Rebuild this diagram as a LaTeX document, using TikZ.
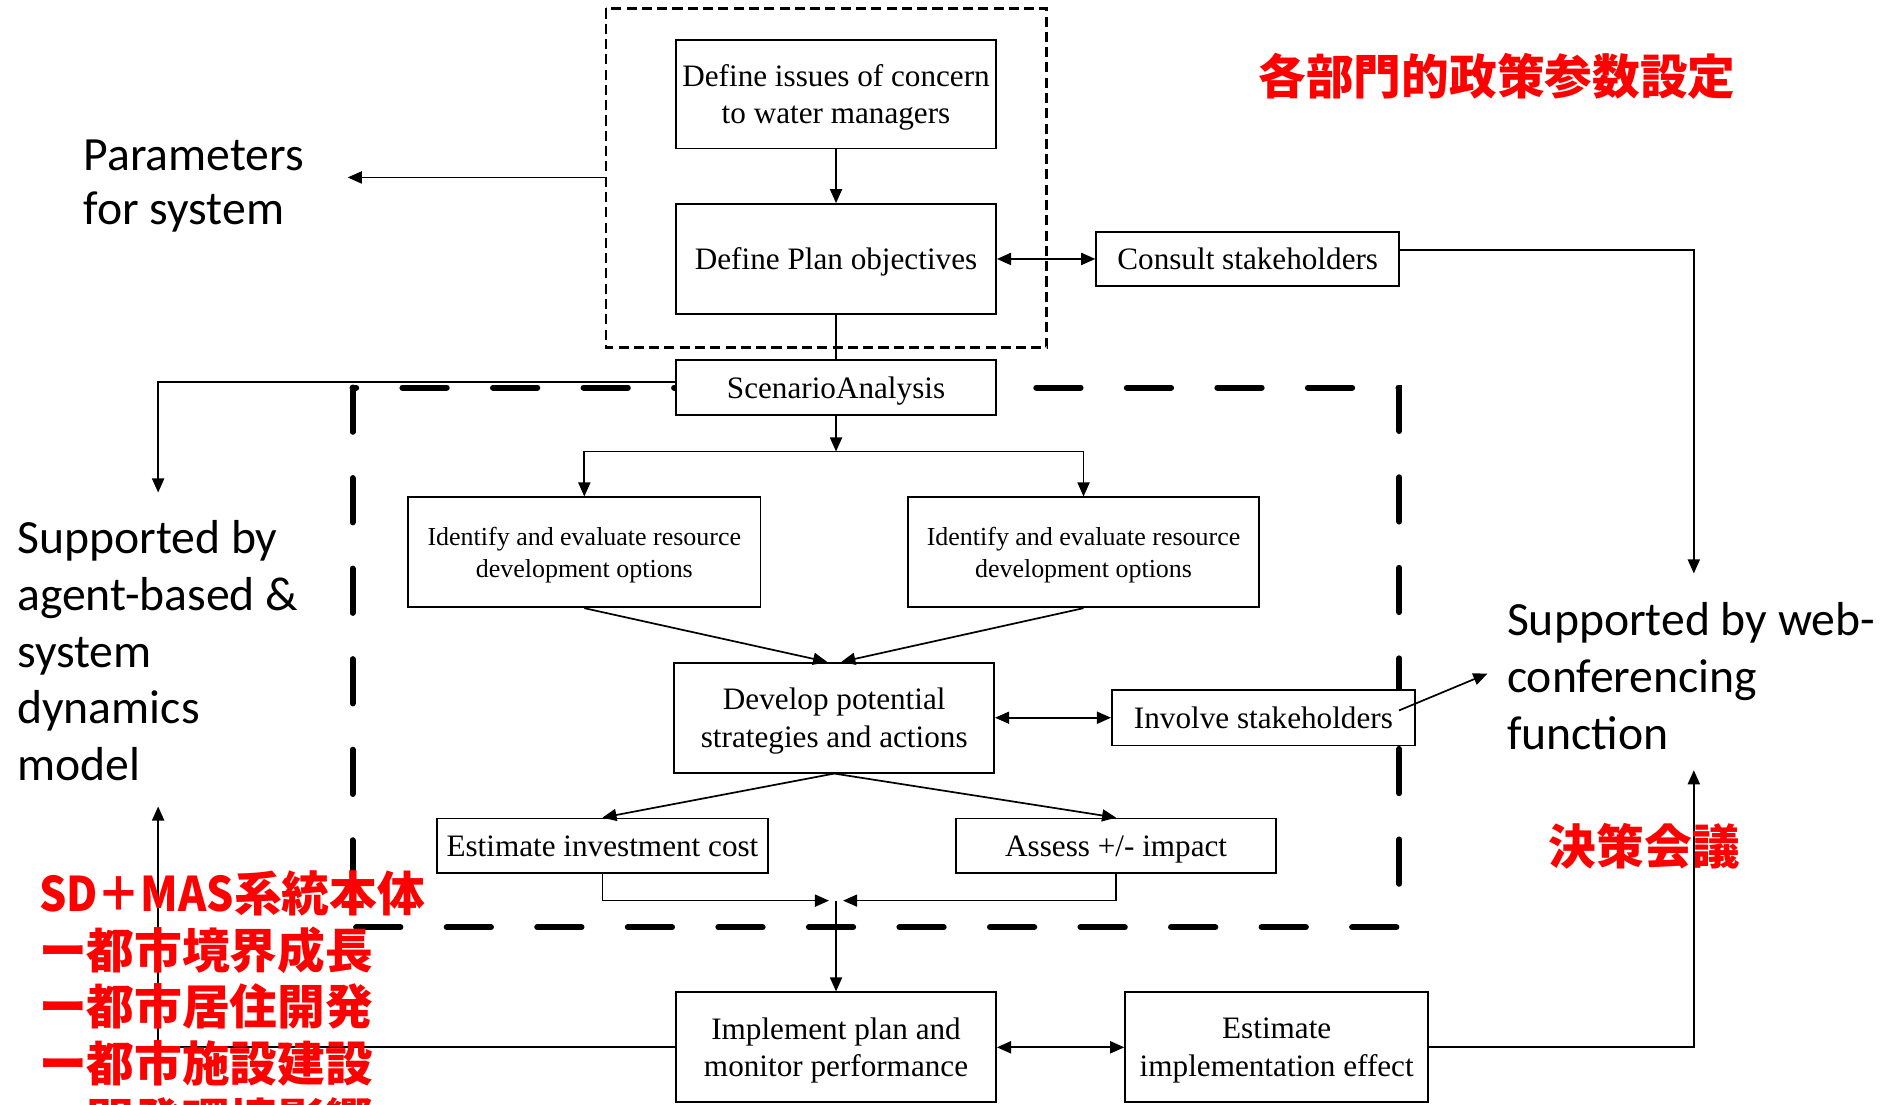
\documentclass[tikz,border=0pt]{standalone}
\usepackage{graphicx}
\usepackage{fontspec}
\setmainfont{Liberation Serif}
\newfontfamily\sansfam{Carlito}
\newfontfamily\jpfont{Noto Sans CJK JP}
\usetikzlibrary{arrows.meta,calc}
\definecolor{hired}{RGB}{255,0,0}
\newcommand\boxfont{\fontsize{15.5pt}{18.6pt}\selectfont}
\newcommand\smallboxfont{\fontsize{12.9pt}{15.6pt}\selectfont}
\begin{document}
\begin{tikzpicture}[x=0.6pt,y=-0.6pt,
  box/.style={draw, line width=0.9pt, fill=white, inner sep=0pt, align=center, font=\boxfont, text depth=0pt},
  sz/.style 2 args={minimum width=#1*0.6pt, minimum height=#2*0.6pt},
  conn/.style={line width=0.85pt},
  arr/.style={conn, -{Triangle[length=7pt,width=6pt]}},
  dbl/.style={conn, {Triangle[length=7pt,width=6pt]}-{Triangle[length=7pt,width=6pt]}},
  thinframe/.style={line width=1.3pt, dash pattern=on 5pt off 2.6pt},
  thickframe/.style={line width=3pt, line cap=round, dash pattern=on 22pt off 23pt},
  note/.style={font=\sansfam\fontsize{23.7pt}{28.2pt}\selectfont, align=left, inner sep=0pt},
  redtxt/.style={text=hired, font=\jpfont\bfseries\fontsize{23.7pt}{28.2pt}\selectfont, inner sep=0pt}
]
\useasboundingbox (0,0) rectangle (1568,915);

% dashed frames around the planning stage and the analysis stage
\draw[thinframe] (502,7) rectangle (867,288);
\draw[thickframe] (292,321) rectangle (1159,768);

% process boxes
\node[box, sz={265}{90}] (iss) at (692.5,78) {Define issues of concern\\to water managers};
\node[box, sz={265}{91}] (obj) at (692.5,214.5) {Define Plan objectives};
\node[box, sz={265}{46}] (sc)  at (692.5,321) {ScenarioAnalysis};
\node[box, sz={251}{45}] (cons) at (1033.5,214.5) {Consult stakeholders};
\node[box, sz={292}{91}, font=\smallboxfont] (idl) at (484,457.5) {Identify and evaluate resource\\development options};
\node[box, sz={291}{91}, font=\smallboxfont] (idr) at (897.5,457.5) {Identify and evaluate resource\\development options};
\node[box, sz={265}{91}] (dev) at (691,594.5) {Develop potential\\strategies and actions};
\node[box, sz={251}{46}] (inv) at (1046.5,594.5) {Involve stakeholders};
\node[box, sz={274}{45}] (est) at (499,700.5) {Estimate investment cost};
\node[box, sz={265}{45}] (ass) at (924.5,700.5) {Assess +/- impact};
\node[box, sz={265}{91}] (imp) at (692.5,867.5) {Implement plan and\\monitor performance};
\node[box, sz={251}{91}] (eff) at (1057.5,867.5) {Estimate\\implementation effect};

% side notes
\node[note, anchor=west] (par) at (69,154) {Parameters\\[-1.2pt]for system};
\node[note, anchor=west] (abm) at (14,539) {Supported by\\agent-based \&\\system\\dynamics\\model};
\node[note, anchor=west] (web) at (1248,560) {Supported by web-\\conferencing\\function};

% loose ends of connectors
\coordinate (frameL) at (502,147);
\coordinate (parR) at (288,147);
\coordinate (abmtop) at (131,408);
\coordinate (abmbot) at (131,668);
\coordinate (webtop) at (1403,475);
\coordinate (webbot) at (1403,638);
\coordinate (webarr) at (1232,558);
\coordinate (split) at (692.5,374);
\coordinate (merge) at (692.5,746);

% connectors
\draw[arr] (iss) -- (obj);
\draw[dbl] (obj) -- (cons);
\draw[conn] (obj) -- (sc);
\draw[arr] (frameL) -- (parR);
\draw[arr] ([yshift=2.7pt]sc.west) -| (abmtop);
\draw[arr] (sc) -- (split);
\draw[arr] (split) -| (idl);
\draw[arr] (split) -| (idr);
\draw[arr] (idl.south) -- ([xshift=-3.5pt]dev.north);
\draw[arr] (idr.south) -- ([xshift=3.5pt]dev.north);
\draw[dbl] (dev) -- (inv);
\draw[arr] ([xshift=-8.4pt,yshift=3.6pt]inv.east) -- (webarr);
\draw[arr] (dev.south) -- (est.north);
\draw[arr] (dev.south) -- (ass.north);
\draw[arr] (est.south) |- ([xshift=-3.5pt]merge);
\draw[arr] (ass.south) |- ([xshift=3.5pt]merge);
\draw[arr] (merge) -- (imp);
\draw[dbl] (imp) -- (eff);
\draw[arr] ([yshift=4.5pt]cons.east) -| (webtop);
\draw[arr] (eff.east) -| (webbot);
\draw[arr] (imp.west) -| (abmbot);

% red annotations
\node[redtxt, anchor=center] (r1) at (1240,63) {各部門的政策参数設定};
\node[redtxt, anchor=center] (r2) at (1362,701) {決策会議};
\node[redtxt, anchor=west] (r3) at (32,740) {\scalebox{0.9}[1]{SD＋MAS}系統本体};
\node[redtxt, anchor=west] (r4) at (32,787) {ー都市境界成長};
\node[redtxt, anchor=west] (r5) at (32,834) {ー都市居住開発};
\node[redtxt, anchor=west] (r6) at (32,881) {ー都市施設建設};
\node[redtxt, anchor=west] (r7) at (32,928) {ー開発環境影響};
\end{tikzpicture}
\end{document}
